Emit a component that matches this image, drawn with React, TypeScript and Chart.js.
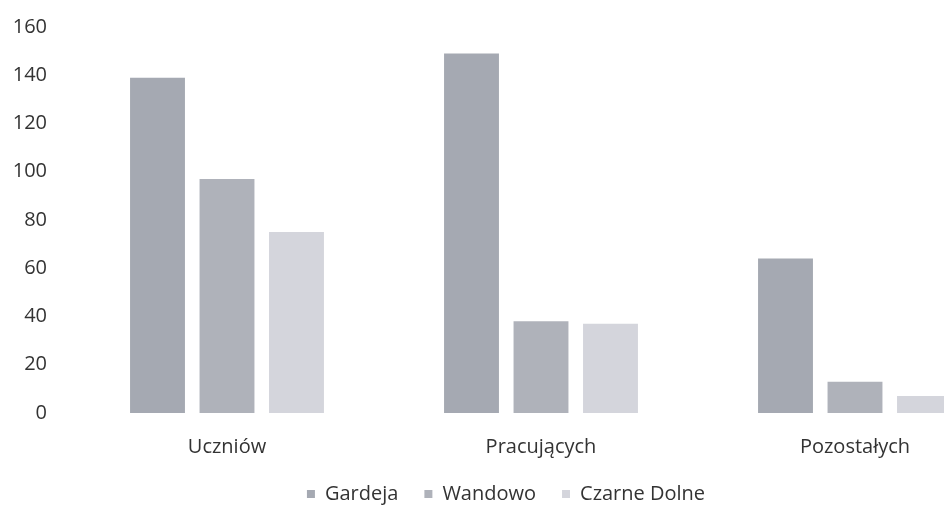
import React, { useEffect, useRef } from "react";
import { Chart, registerables } from "chart.js";

Chart.register(...registerables);

const categories = ["Uczniów", "Pracujących", "Pozostałych"];
const seriesNames = ["Gardeja", "Wandowo", "Czarne Dolne"];
const gardeja = [139, 149, 64];
const wandowo = [97, 38, 13];
const czarneDolne = [75, 37, 7];
const yTicks = [0, 20, 40, 60, 80, 100, 120, 140, 160];
const colors = ["#a5a9b2", "#afb2ba", "#d4d5dc"];

export default function App() {
  const ref = useRef<HTMLCanvasElement | null>(null);
  useEffect(() => {
    if (!ref.current) return;
    const font = { family: "'Open Sans', sans-serif", size: 20 };
    const chart = new Chart(ref.current, {
      type: "bar",
      data: {
        labels: categories,
        datasets: [gardeja, wandowo, czarneDolne].map((d, i) => ({
          label: seriesNames[i],
          data: d,
          backgroundColor: colors[i],
          borderWidth: 0,
          categoryPercentage: 0.664,
          barPercentage: 0.79,
        })),
      },
      options: {
        animation: false,
        responsive: true,
        maintainAspectRatio: false,
        layout: { padding: { top: 0, right: 65, left: 0, bottom: 0 } },
        plugins: {
          tooltip: { enabled: false },
          legend: {
            position: "bottom",
            labels: {
              boxWidth: 8,
              boxHeight: 8,
              padding: 26,
              color: "#333333",
              font,
            },
          },
        },
        scales: {
          x: {
            grid: { display: false, drawTicks: false },
            border: { display: false },
            ticks: { color: "#333333", font, padding: 22 },
            afterFit: (s: any) => {
              s.height = 45;
            },
          },
          y: {
            min: 0,
            max: 160,
            afterBuildTicks: (s: any) => {
              s.ticks = yTicks.map((v) => ({ value: v }));
            },
            grid: { display: false, drawTicks: false },
            border: { display: false },
            ticks: { color: "#333333", font, padding: 23 },
            afterFit: (s: any) => {
              s.width = 70;
            },
          },
        },
      },
    });
    return () => chart.destroy();
  }, []);
  return (
    <div style={{ position: "fixed", left: 0, top: 0, width: 944, height: 508, overflow: "hidden", background: "#fff" }}>
      <div style={{ position: "absolute", left: 0, top: -8, width: 1077, height: 522 }}>
        <canvas ref={ref} />
      </div>
    </div>
  );
}
